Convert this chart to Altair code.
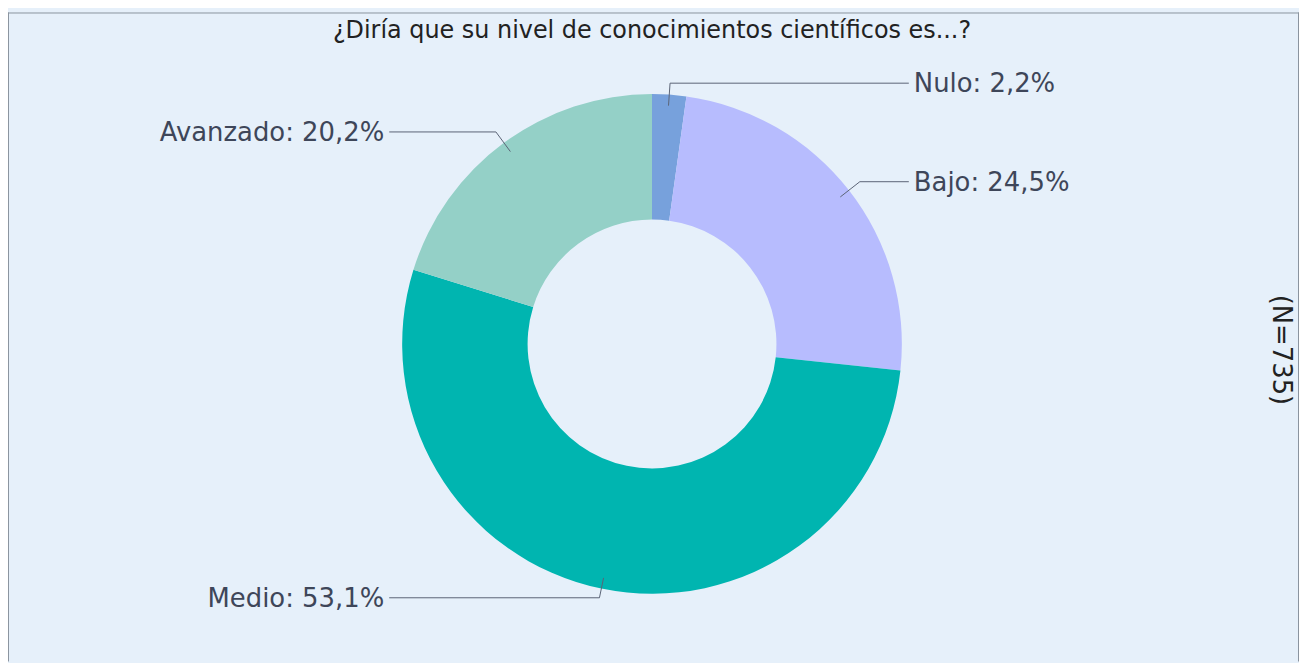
import math
import altair as alt
import pandas as pd

# ---- data ----
categories = ["Nulo", "Bajo", "Medio", "Avanzado"]
values = [2.2, 24.5, 53.1, 20.2]
colors = ["#77a1dc", "#b7bcfe", "#00b5b0", "#94d0c7"]
title_text = "¿Diría que su nivel de conocimientos científicos es...?"
n_text = "(N=735)"

# ---- layout ----
W, H = 1297, 652
cx, cy = 647, 333
R_OUT, R_IN = 251, 125
R_START = 240
label_y = {"Nulo": 71, "Bajo": 170, "Medio": 588, "Avanzado": 120}
RIGHT_END, LEFT_END = 905, 383
FONT = "DejaVu Sans"

df = pd.DataFrame({"cat": categories, "value": values, "idx": range(len(categories))})

# leader lines and labels computed from slice mid-angles
total = sum(values)
cum = 0
line_rows, label_rows = [], []
for c, v in zip(categories, values):
    mid = (cum + v / 2) / total * 2 * math.pi
    cum += v
    s, co = math.sin(mid), math.cos(mid)
    x0, y0 = cx + R_START * s, cy - R_START * co
    ly = label_y[c]
    t = (y0 - ly) / co if abs(co) > 1e-6 else 0
    x1 = x0 + t * s
    right = s >= 0
    x2 = RIGHT_END if right else LEFT_END
    line_rows += [
        {"cat": c, "o": 0, "px": x0, "py": y0},
        {"cat": c, "o": 1, "px": x1, "py": ly},
        {"cat": c, "o": 2, "px": x2, "py": ly},
    ]
    label_rows.append({
        "cat": c,
        "label": f"{c}: {str(v).replace('.', ',')}%",
        "px": x2 + 5 if right else x2 - 5,
        "py": ly + 1,
        "align": "left" if right else "right",
    })
lines_df = pd.DataFrame(line_rows)
labels_df = pd.DataFrame(label_rows)

arcs = alt.Chart(df).mark_arc(outerRadius=R_OUT, innerRadius=R_IN, stroke=None).encode(
    theta=alt.Theta("value:Q", stack=True),
    color=alt.Color("cat:N", scale=alt.Scale(domain=categories, range=colors), legend=None),
    order=alt.Order("idx:Q"),
    x=alt.value(cx),
    y=alt.value(cy),
)

leaders = alt.Chart(lines_df).mark_line(color="#5b6476", strokeWidth=1).encode(
    x=alt.X("px:Q", scale=None, axis=None),
    y=alt.Y("py:Q", scale=None, axis=None),
    detail="cat:N",
    order="o:Q",
)

LABEL_SIZE = 26
labels_r = alt.Chart(labels_df[labels_df["align"] == "left"]).mark_text(
    align="left", baseline="middle", font=FONT, fontSize=LABEL_SIZE, color="#3e4659"
).encode(x=alt.X("px:Q", scale=None, axis=None), y=alt.Y("py:Q", scale=None, axis=None), text="label:N")

labels_l = alt.Chart(labels_df[labels_df["align"] == "right"]).mark_text(
    align="right", baseline="middle", font=FONT, fontSize=LABEL_SIZE, color="#3e4659"
).encode(x=alt.X("px:Q", scale=None, axis=None), y=alt.Y("py:Q", scale=None, axis=None), text="label:N")

one = pd.DataFrame({"a": [0]})
title = alt.Chart(one).mark_text(
    text=title_text, align="center", baseline="middle", font=FONT, fontSize=24, color="#222222"
).encode(x=alt.value(cx), y=alt.value(19))

ntext = alt.Chart(one).mark_text(
    text=n_text, align="center", baseline="middle", font=FONT, fontSize=26, color="#222222", angle=90
).encode(x=alt.value(1279), y=alt.value(339))

border_style = dict(color="#8a939e", strokeWidth=1)
b_top = alt.Chart(one).mark_rule(**border_style).encode(x=alt.value(0), x2=alt.value(W), y=alt.value(0.5))
b_left = alt.Chart(one).mark_rule(**border_style).encode(x=alt.value(0.5), y=alt.value(0), y2=alt.value(H))
b_right = alt.Chart(one).mark_rule(**border_style).encode(x=alt.value(W - 0.5), y=alt.value(0), y2=alt.value(H))

chart = alt.layer(arcs, leaders, labels_r, labels_l, title, ntext, b_top, b_left, b_right).properties(
    width=W, height=H,
    padding={"left": 0, "top": 3, "right": 0, "bottom": 0},
    autosize=alt.AutoSizeParams(type="none"),
).configure(background="#e6f0fa").configure_view(stroke=None)

chart.save("out.html", embed_options={"renderer": "svg", "actions": False})
